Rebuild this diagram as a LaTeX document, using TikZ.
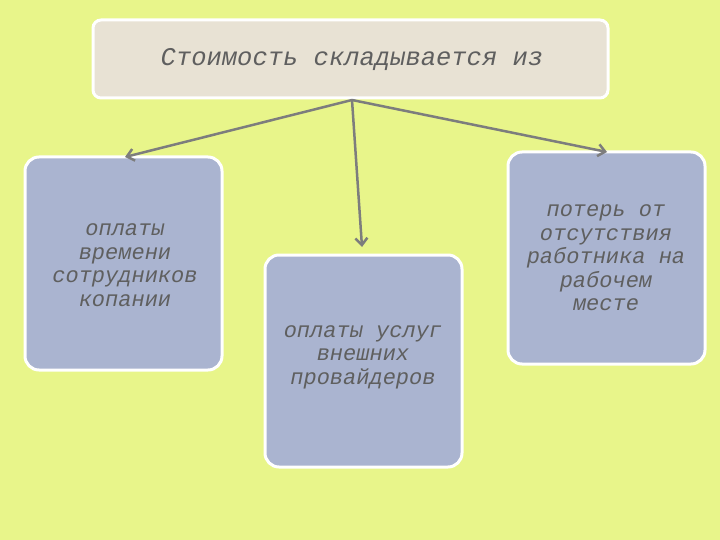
\documentclass[tikz,border=0pt]{standalone}
\usepackage{fontspec}
\setmainfont{Liberation Mono}
\usetikzlibrary{arrows.meta}
\definecolor{bg}{RGB}{232,245,138}
\definecolor{topf}{RGB}{232,226,212}
\definecolor{boxf}{RGB}{170,180,208}
\definecolor{txt}{RGB}{95,95,95}
\definecolor{arr}{RGB}{125,125,125}
\tikzset{x=1pt,y=-1pt,
 box/.style={draw=white,line width=3pt,rounded corners=14pt,fill=boxf},
 lbl/.style={text=txt,align=center,font=\fontsize{22}{23.5}\selectfont\itshape},
 con/.style={draw=arr,line width=2.5pt,-{Straight Barb[length=7pt,width=12pt]}}}
\begin{document}
\begin{tikzpicture}
\fill[bg] (0,0) rectangle (720,540);
\useasboundingbox (0,0) rectangle (720,540);
\node[box,fill=topf,minimum width=515pt,minimum height=78pt,rounded corners=8pt] (top) at (350.5,59) {};
\node[lbl,font=\fontsize{25.5}{26}\selectfont\itshape] (tt) at (352,60) {Стоимость складывается из};
\node[box,minimum width=197pt,minimum height=213pt] (l) at (123.5,263.5) {};
\node[lbl] (lt) at (125,265) {оплаты\\времени\\сотрудников\\копании};
\node[box,minimum width=197pt,minimum height=212pt] (m) at (363.5,361) {};
\node[lbl] (mt) at (363,357) {оплаты услуг\\внешних\\провайдеров};
\node[box,minimum width=197pt,minimum height=212pt] (r) at (606.5,258) {};
\node[lbl] (rt) at (606,258) {потерь от\\отсутствия\\работника на\\рабочем\\месте};
\coordinate (o) at (352,100);
\coordinate (la) at (125,157);
\coordinate (ma) at (362,247);
\coordinate (ra) at (607,152);
\draw[con] (o) -- (la);
\draw[con] (o) -- (ma);
\draw[con] (o) -- (ra);
\end{tikzpicture}
\end{document}
